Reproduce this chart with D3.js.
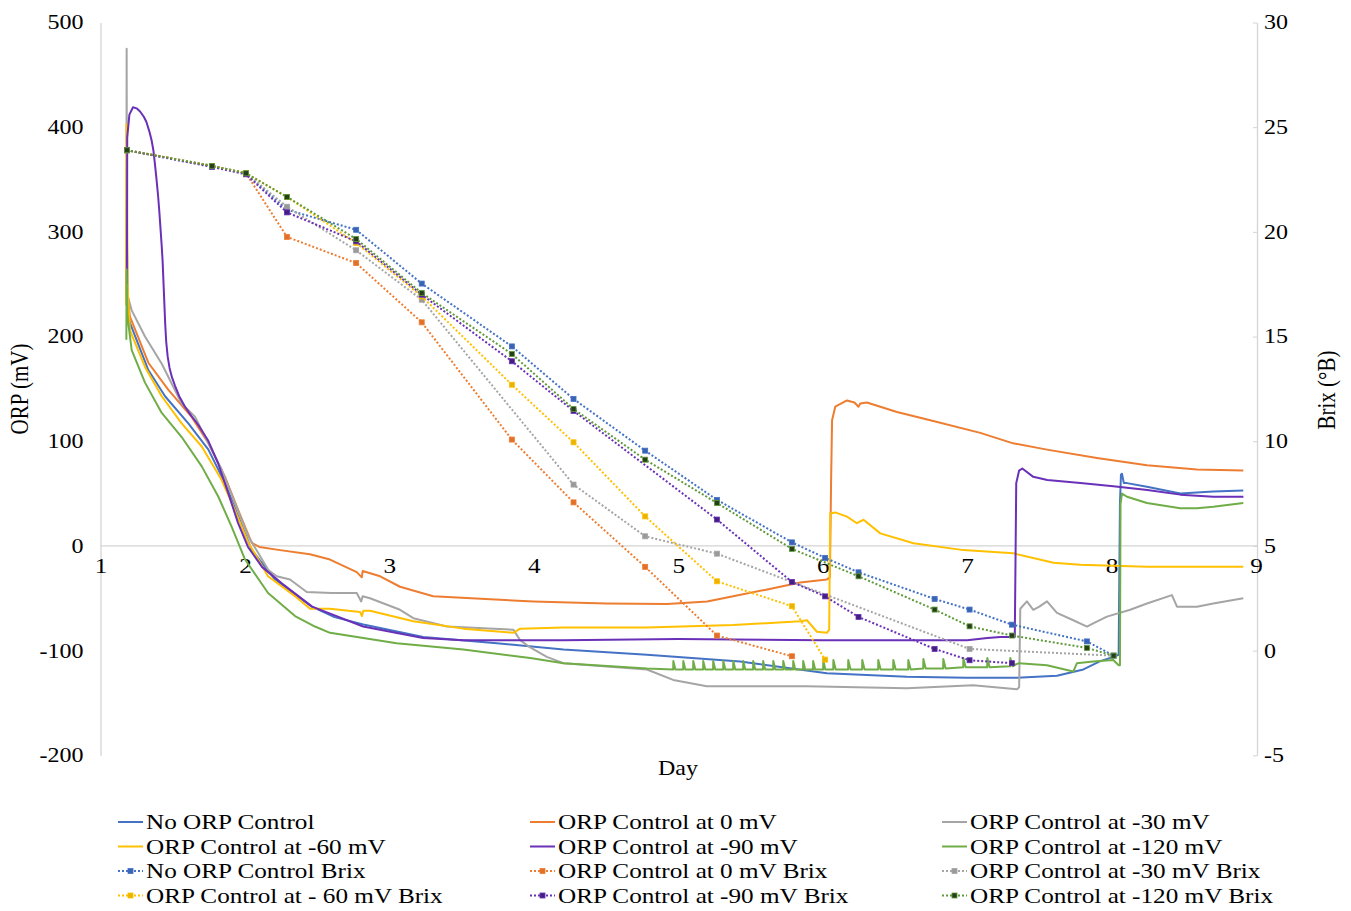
<!DOCTYPE html>
<html>
<head>
<meta charset="utf-8">
<script src="https://cdn.jsdelivr.net/npm/d3@7"></script>
<style>
  body { margin: 0; background: #fff; }
  svg { display: block; }
  text { font-family: "Liberation Serif", "Times New Roman", serif; fill: #000; }
</style>
</head>
<body>
<svg id="chart" width="1351" height="911"></svg>
<script>
// ---- axis ticks ----
const dayTicks = [1, 2, 3, 4, 5, 6, 7, 8, 9];
const orpTicks = [-200, -100, 0, 100, 200, 300, 400, 500];
const brixTicks = [-5, 0, 5, 10, 15, 20, 25, 30];

// ---- ORP readings: [day, mV] ----
const orpNone = [
  [1.180, 240], [1.182, 330], [1.186, 230], [1.204, 213], [1.331, 168], [1.447, 143], [1.608, 117],
  [1.747, 92], [1.862, 60], [1.954, 28], [2.047, -4], [2.208, -32], [2.463, -58], [2.62, -68],
  [2.82, -75], [3.235, -87], [3.744, -93], [4.205, -99], [4.783, -104], [5.429, -110.5],
  [6.029, -121.6], [6.583, -125], [7.0, -126], [7.345, -126], [7.622, -124], [7.805, -118],
  [7.922, -110], [8.012, -106], [8.049, -104], [8.058, 40], [8.065, 68], [8.072, 69], [8.085, 60],
  [8.107, 60], [8.245, 56.6], [8.476, 50], [8.704, 52], [8.912, 53]
];
const orp0 = [
  [1.180, 230], [1.182, 360], [1.186, 240], [1.204, 219], [1.331, 175], [1.470, 149], [1.632, 123],
  [1.747, 98], [1.862, 66], [1.954, 34], [2.047, 3], [2.10, -1], [2.243, -4], [2.45, -8],
  [2.589, -13], [2.774, -25], [2.809, -30], [2.815, -24], [2.936, -29], [3.074, -39], [3.303, -48],
  [3.70, -51], [3.995, -53], [4.5, -55], [4.923, -55.4], [5.2, -53], [5.380, -48], [5.6, -42],
  [5.844, -35], [6.029, -32], [6.05, -30], [6.058, 60], [6.065, 120], [6.087, 133], [6.168, 139],
  [6.22, 137], [6.248, 133], [6.26, 136], [6.306, 137], [6.514, 128], [6.745, 120], [7.091, 108],
  [7.319, 98], [7.553, 92], [7.899, 84], [8.245, 77], [8.591, 73], [8.912, 72]
];
const orp30 = [
  [1.179, 270], [1.181, 475], [1.183, 300], [1.186, 240], [1.216, 225], [1.308, 200], [1.424, 174],
  [1.562, 136], [1.654, 123.5], [1.747, 98], [1.839, 73], [1.931, 41], [2.024, 9], [2.162, -23],
  [2.22, -29], [2.312, -32], [2.428, -44], [2.6, -45], [2.774, -45], [2.805, -53], [2.815, -48],
  [2.866, -50], [3.074, -61], [3.166, -69], [3.398, -77], [3.859, -80], [3.905, -90], [3.975, -97],
  [4.090, -106], [4.205, -112], [4.783, -118], [4.965, -128], [5.198, -134], [5.891, -134],
  [6.583, -136], [7.042, -133], [7.345, -137], [7.36, -135], [7.368, -60], [7.414, -53],
  [7.458, -61], [7.50, -58], [7.553, -53], [7.622, -64], [7.735, -71], [7.830, -77], [7.873, -74],
  [7.968, -67.5], [8.129, -61], [8.245, -55], [8.418, -47], [8.453, -58], [8.591, -58],
  [8.704, -55], [8.912, -50]
];
const orp60 = [
  [1.178, 230], [1.180, 403], [1.183, 380], [1.186, 250], [1.204, 206], [1.308, 171], [1.424, 143],
  [1.562, 117], [1.701, 95], [1.839, 63], [1.931, 34], [2.024, 3], [2.160, -29], [2.347, -48],
  [2.451, -60], [2.589, -60], [2.797, -63], [2.81, -67], [2.82, -62], [2.866, -62], [3.166, -72],
  [3.512, -79], [3.859, -83], [3.905, -79], [4.205, -78], [4.783, -78], [5.380, -75.5],
  [5.844, -72], [5.891, -71], [5.960, -82], [6.029, -83], [6.045, -80], [6.052, 31], [6.087, 32],
  [6.168, 28], [6.237, 21.7], [6.283, 25], [6.399, 12], [6.629, 2.5], [6.975, -4], [7.319, -7],
  [7.598, -16], [7.783, -18], [8.245, -20], [8.912, -20]
];
const orp90 = [
  [1.183, 250], [1.185, 390], [1.20, 412], [1.225, 419], [1.25, 418], [1.274, 415], [1.30, 410],
  [1.318, 405], [1.338, 396], [1.353, 388], [1.366, 378], [1.376, 366], [1.388, 350], [1.399, 334],
  [1.408, 318], [1.416, 302], [1.424, 286], [1.43, 272], [1.436, 252], [1.442, 232], [1.448, 212],
  [1.455, 195], [1.465, 181], [1.478, 170], [1.495, 161], [1.516, 153], [1.545, 143],
  [1.585, 133], [1.63, 124], [1.675, 116], [1.744, 101], [1.814, 79], [1.883, 51], [1.952, 22],
  [2.021, -1], [2.118, -20], [2.257, -36], [2.465, -58], [2.818, -77], [3.233, -88], [3.51, -90],
  [4.2, -90], [5.0, -89], [6.0, -90], [7.0, -90], [7.14, -88], [7.229, -87], [7.33, -87],
  [7.34, 60], [7.36, 72], [7.382, 74], [7.458, 66], [7.555, 63], [7.784, 60], [8.012, 57],
  [8.248, 53.5], [8.476, 49], [8.705, 47], [8.913, 47]
];
const orp120 = [
  [1.179, 197], [1.181, 264], [1.186, 220], [1.216, 187], [1.308, 156], [1.424, 127], [1.562, 104],
  [1.701, 76], [1.816, 47], [1.909, 18], [2.001, -13], [2.160, -45], [2.347, -67], [2.485, -77],
  [2.589, -83], [3.05, -93], [3.512, -99], [3.975, -107], [4.205, -112], [4.783, -117],
  [4.965, -118], [4.966, -110], [4.980, -118], [5.034, -118], [5.035, -110], [5.049, -118],
  [5.103, -118], [5.104, -110], [5.118, -118], [5.172, -118], [5.173, -110], [5.187, -118],
  [5.241, -118], [5.242, -110], [5.256, -118], [5.311, -118], [5.312, -110], [5.326, -118],
  [5.380, -118], [5.381, -110], [5.395, -118], [5.449, -118], [5.450, -110], [5.464, -118],
  [5.518, -118], [5.519, -110], [5.533, -118], [5.587, -118], [5.588, -110], [5.602, -118],
  [5.657, -118], [5.658, -110], [5.672, -118], [5.726, -118], [5.727, -110], [5.741, -118],
  [5.795, -118], [5.796, -110], [5.810, -118], [5.864, -118], [5.865, -110], [5.879, -118],
  [5.933, -118], [5.934, -110], [5.948, -118], [6.003, -118], [6.004, -109], [6.018, -118],
  [6.073, -118], [6.074, -109], [6.090, -118], [6.176, -118], [6.177, -109], [6.193, -118],
  [6.273, -118], [6.274, -109], [6.290, -118], [6.384, -118], [6.385, -109], [6.401, -118],
  [6.488, -118], [6.489, -109], [6.505, -118], [6.592, -118], [6.593, -109], [6.609, -118],
  [6.696, -117], [6.697, -108], [6.713, -117], [6.834, -117], [6.835, -108], [6.851, -117],
  [6.973, -116], [6.974, -107], [6.990, -116], [7.139, -116], [7.140, -107], [7.156, -116],
  [7.298, -115], [7.299, -107], [7.315, -115], [7.34, -113], [7.36, -112], [7.553, -114],
  [7.735, -120], [7.76, -112], [7.873, -110.5], [8.012, -109], [8.049, -114], [8.058, -114],
  [8.062, 40], [8.072, 50], [8.107, 47], [8.245, 41], [8.476, 36], [8.591, 36], [8.704, 37.5],
  [8.912, 41]
];

// ---- Brix samples: [day, °B] ----
const brixNone = [
  [1.183, 23.9], [1.772, 23.15], [2.007, 22.8], [2.291, 21.06], [2.770, 20.1], [3.224, 17.53],
  [3.848, 14.53], [4.275, 12.02], [4.771, 9.55], [5.268, 7.2], [5.787, 5.17], [6.017, 4.43],
  [6.248, 3.74], [6.775, 2.47], [7.017, 1.96], [7.310, 1.24], [7.829, 0.44], [8.014, -0.24]
];
const brix0 = [
  [1.183, 23.9], [1.772, 23.15], [2.007, 22.8], [2.291, 19.76], [2.770, 18.51], [3.224, 15.68],
  [3.848, 10.08], [4.275, 7.08], [4.771, 4.0], [5.268, 0.72], [5.787, -0.27]
];
const brix30 = [
  [1.183, 23.9], [1.772, 23.15], [2.007, 22.8], [2.291, 21.2], [2.770, 19.12], [3.224, 16.76],
  [4.275, 7.93], [4.771, 5.46], [5.268, 4.63], [7.017, 0.08], [8.014, -0.24]
];
const brix60 = [
  [1.183, 23.9], [1.772, 23.15], [2.007, 22.8], [2.291, 21.67], [2.770, 19.47], [3.224, 16.92],
  [3.848, 12.70], [4.275, 9.95], [4.771, 6.41], [5.268, 3.31], [5.787, 2.12], [6.017, -0.43]
];
const brix90 = [
  [1.183, 23.9], [1.772, 23.1], [2.007, 22.75], [2.291, 20.93], [2.770, 19.55], [3.224, 17.0],
  [3.848, 13.82], [4.275, 11.45], [5.268, 6.26], [5.787, 3.28], [6.017, 2.59], [6.248, 1.61],
  [6.775, 0.08], [7.017, -0.46], [7.310, -0.6]
];
const brix120 = [
  [1.183, 23.9], [1.772, 23.15], [2.007, 22.8], [2.291, 21.67], [2.770, 19.66], [3.224, 17.08],
  [3.848, 14.17], [4.275, 11.54], [4.771, 9.12], [5.268, 7.05], [5.787, 4.86], [6.248, 3.55],
  [6.775, 1.96], [7.017, 1.16], [7.310, 0.72], [7.829, 0.13], [8.014, -0.24]
];

// ---- series descriptions ----
const orpSeries = [
  { name: "No ORP Control", data: orpNone, color: "#4472C4" },
  { name: "ORP Control at 0 mV", data: orp0, color: "#ED7D31" },
  { name: "ORP Control at -30 mV", data: orp30, color: "#A5A5A5" },
  { name: "ORP Control at -60 mV", data: orp60, color: "#FFC000" },
  { name: "ORP Control at -90 mV", data: orp90, color: "#6A30B8" },
  { name: "ORP Control at -120 mV", data: orp120, color: "#70AD47" }
];
const brixSeries = [
  { name: "No ORP Control Brix", data: brixNone, color: "#4472C4", marker: "#3A62B5" },
  { name: "ORP Control at 0 mV Brix", data: brix0, color: "#ED7D31", marker: "#E2702A" },
  { name: "ORP Control at -30 mV Brix", data: brix30, color: "#A5A5A5", marker: "#9A9A9A" },
  { name: "ORP Control at - 60 mV Brix", data: brix60, color: "#FFC000", marker: "#E8B400" },
  { name: "ORP Control at -90 mV Brix", data: brix90, color: "#6A30B8", marker: "#42207E" },
  { name: "ORP Control at -120 mV Brix", data: brix120, color: "#5E9A3A", marker: "#263F1A" }
];

// ---- scales ----
const x = d3.scaleLinear().domain([1, 9]).range([100.5, 1256]);
const yOrp = d3.scaleLinear().domain([-200, 500]).range([755.3, 22.5]);
const yBrix = d3.scaleLinear().domain([-5, 30]).range([755.3, 22.5]);

const svg = d3.select("#chart");
svg.append("rect").attr("width", 1351).attr("height", 911).attr("fill", "#fff");

const SX = 1.2;           // horizontal glyph stretch
const axisGrey = "#D4D4D4";
const plainNum = d => String(d);   // hyphen-minus labels

// left axis (ORP)
const gLeft = svg.append("g").attr("transform", "translate(100.5,0)")
  .call(d3.axisLeft(yOrp).tickValues(orpTicks).tickFormat(plainNum).tickSize(0).tickPadding(17));
gLeft.select(".domain").attr("stroke", axisGrey).attr("stroke-width", 1.3);
gLeft.selectAll("text").attr("font-size", 20).attr("font-family", "Liberation Serif")
  .attr("fill", "#111").attr("x", -17 / SX).attr("transform", `scale(${SX},1)`);

// right axis (Brix)
const gRight = svg.append("g").attr("transform", "translate(1257,0)")
  .call(d3.axisRight(yBrix).tickValues(brixTicks).tickFormat(plainNum)
    .tickSizeInner(-4).tickSizeOuter(0).tickPadding(7));
gRight.select(".domain").attr("stroke", axisGrey).attr("stroke-width", 1.3);
gRight.selectAll("line").attr("stroke", axisGrey);
gRight.selectAll("text").attr("font-size", 20).attr("font-family", "Liberation Serif")
  .attr("fill", "#111").attr("x", 7 / SX).attr("transform", `scale(${SX},1)`);

// day axis along ORP = 0
const gBottom = svg.append("g").attr("transform", `translate(0,${yOrp(0)})`)
  .call(d3.axisBottom(x).tickValues(dayTicks).tickFormat(plainNum).tickSize(0).tickSizeOuter(0)
    .tickPadding(12));
gBottom.select(".domain").attr("stroke", axisGrey).attr("stroke-width", 1.3)
  .attr("d", `M${x(1)},0H1257`);
gBottom.selectAll("text").attr("font-size", 21).attr("font-family", "Liberation Serif")
  .attr("fill", "#111").attr("transform", `scale(${SX},1)`);

// axis titles
function stretchedText(xp, yp, str, size, rotate) {
  return svg.append("text")
    .attr("transform", `translate(${xp},${yp}) scale(${SX},1)` + (rotate ? ` rotate(${rotate})` : ""))
    .attr("text-anchor", "middle").attr("font-size", size).text(str);
}
stretchedText(678, 775, "Day", 20, 0);
stretchedText(28, 389, "ORP (mV)", 21, -90);
stretchedText(1335, 390, "Brix (°B)", 21, -90);

// ORP curves
const lineOrp = d3.line().x(d => x(d[0])).y(d => yOrp(d[1]));
const gOrp = svg.append("g");
orpSeries.forEach(s => {
  gOrp.append("path").datum(s.data).attr("d", lineOrp)
    .attr("fill", "none").attr("stroke", s.color).attr("stroke-width", 2)
    .attr("stroke-linejoin", "round");
});

// Brix curves with square markers
const lineBrix = d3.line().x(d => x(d[0])).y(d => yBrix(d[1]));
const gBrix = svg.append("g");
brixSeries.forEach(s => {
  gBrix.append("path").datum(s.data).attr("d", lineBrix)
    .attr("fill", "none").attr("stroke", s.color).attr("stroke-width", 2)
    .attr("stroke-dasharray", "2,2");
  gBrix.selectAll(null).data(s.data).enter().append("rect")
    .attr("x", d => x(d[0]) - 2.5).attr("y", d => yBrix(d[1]) - 2.5)
    .attr("width", 5).attr("height", 5)
    .attr("fill", s.marker).attr("stroke", s.color).attr("stroke-width", 0.8);
});

// legend: 3 columns, 4 rows
const legendItems = [
  orpSeries[0], orpSeries[1], orpSeries[2],
  orpSeries[3], orpSeries[4], orpSeries[5],
  brixSeries[0], brixSeries[1], brixSeries[2],
  brixSeries[3], brixSeries[4], brixSeries[5]
];
const colX = [118, 530, 942];
const rowY = [822, 846.5, 871, 895.5];
legendItems.forEach((s, i) => {
  const cx = colX[i % 3], cy = rowY[Math.floor(i / 3)];
  const g = svg.append("g").attr("transform", `translate(${cx},${cy})`);
  const isBrix = i >= 6;
  g.append("line").attr("x1", 0).attr("x2", 25).attr("y1", 0).attr("y2", 0)
    .attr("stroke", s.color).attr("stroke-width", 2)
    .attr("stroke-dasharray", isBrix ? "2,2" : null);
  if (isBrix) {
    g.append("rect").attr("x", 10).attr("y", -2.5).attr("width", 5).attr("height", 5)
      .attr("fill", s.marker).attr("stroke", s.color).attr("stroke-width", 0.8);
  }
  g.append("text").attr("transform", `translate(28,7) scale(${SX},1)`)
    .attr("font-size", 21).text(s.name);
});
</script>
</body>
</html>
